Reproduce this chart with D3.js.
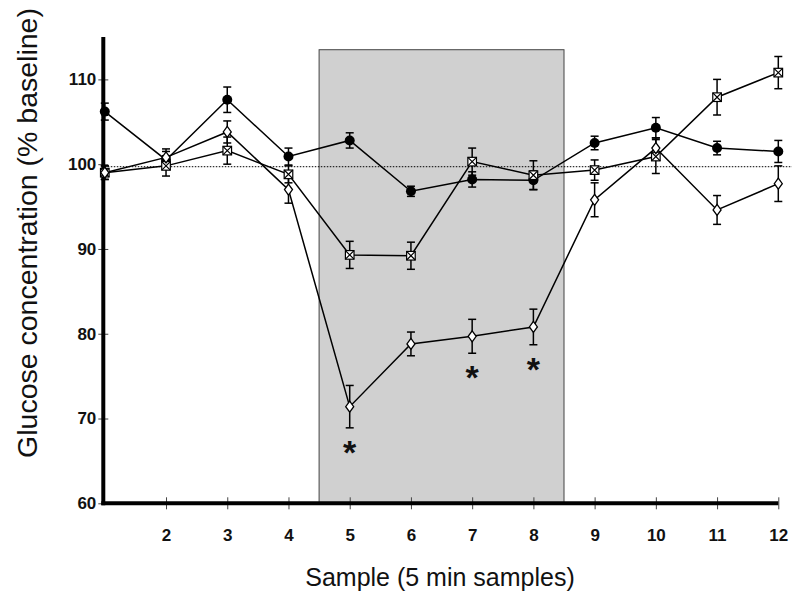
<!DOCTYPE html>
<html>
<head>
<meta charset="utf-8">
<script src="https://cdn.jsdelivr.net/npm/d3@7"></script>
<style>
  html, body { margin: 0; padding: 0; background: #fff; }
  svg { display: block; font-family: "Liberation Sans", Arial, sans-serif; }
</style>
</head>
<body>
<svg id="chart" width="800" height="605"></svg>
<script>
// ---- data ----
const samples = [1, 2, 3, 4, 5, 6, 7, 8, 9, 10, 11, 12];
const filledValues = [106.2, 100.5, 107.6, 100.9, 102.8, 96.8, 98.2, 98.1, 102.5, 104.3, 101.9, 101.5];
const filledErrors = [1.0, 1.0, 1.5, 1.0, 0.9, 0.6, 0.9, 1.1, 0.8, 1.2, 0.8, 1.3];
const crossValues = [99.0, 99.8, 101.6, 98.8, 89.3, 89.2, 100.3, 98.7, 99.3, 100.9, 107.9, 110.8];
const crossErrors = [0.8, 1.2, 1.6, 1.0, 1.6, 1.6, 1.6, 1.7, 1.2, 2.0, 2.1, 1.9];
const diamondValues = [99.0, 100.8, 103.8, 97.0, 71.4, 78.8, 79.7, 80.8, 95.8, 101.9, 94.6, 97.7];
const diamondErrors = [0.8, 1.0, 1.3, 1.6, 2.5, 1.4, 2.0, 2.1, 2.0, 1.2, 1.7, 2.1];
const starSamples = [5, 7, 8];
const xTickValues = [2, 3, 4, 5, 6, 7, 8, 9, 10, 11, 12];
const yTickValues = [60, 70, 80, 90, 100, 110];
const baselineValue = 99.7;
const shadeRange = [4.5, 8.5];
const shadeTop = 113.5;
const yDomain = [60, 115];
const xLabel = "Sample (5 min samples)";
const yLabel = "Glucose concentration (% baseline)";

// ---- scales ----
const x = d3.scaleLinear().domain([1, 12]).range([104.8, 778.3]);
const y = d3.scaleLinear().domain(yDomain).range([503.3, 37]);

const svg = d3.select("#chart");

// shaded treatment period
svg.append("rect")
  .attr("x", x(shadeRange[0]))
  .attr("y", y(shadeTop))
  .attr("width", x(shadeRange[1]) - x(shadeRange[0]))
  .attr("height", y(yDomain[0]) - y(shadeTop))
  .attr("fill", "#d0d0d0")
  .attr("stroke", "#444")
  .attr("stroke-width", 1);

// baseline dotted line
svg.append("line")
  .attr("x1", x(1)).attr("x2", 792)
  .attr("y1", y(baselineValue)).attr("y2", y(baselineValue))
  .attr("stroke", "#000").attr("stroke-width", 1)
  .attr("stroke-dasharray", "1.5,1.5");

// ---- axes ----
const xAxis = svg.append("g")
  .attr("transform", `translate(0,${y(yDomain[0])})`)
  .call(d3.axisBottom(x).tickValues(xTickValues).tickSize(6).tickPadding(20).tickFormat(d3.format("d")));
xAxis.select(".domain").remove();
xAxis.selectAll(".tick line").attr("y1", -6).attr("y2", 6).attr("stroke", "#444").attr("stroke-width", 1);
xAxis.selectAll(".tick text")
  .attr("font-family", "Liberation Sans, Arial, sans-serif")
  .attr("font-size", 17).attr("font-weight", "bold").attr("fill", "#111");

const yAxis = svg.append("g")
  .attr("transform", `translate(${x(1) - 1.5},0)`)
  .call(d3.axisLeft(y).tickValues(yTickValues).tickSize(5).tickPadding(2).tickFormat(d3.format("d")));
yAxis.select(".domain").remove();
yAxis.selectAll(".tick line").attr("x1", -5).attr("x2", 5).attr("stroke", "#444").attr("stroke-width", 1);
yAxis.selectAll(".tick text")
  .attr("font-family", "Liberation Sans, Arial, sans-serif")
  .attr("font-size", 17).attr("font-weight", "bold").attr("fill", "#111");

// thick axis lines
svg.append("line")
  .attr("x1", x(1) - 1.5).attr("x2", x(1) - 1.5)
  .attr("y1", y(yDomain[1])).attr("y2", y(yDomain[0]) + 2)
  .attr("stroke", "#000").attr("stroke-width", 4);
svg.append("line")
  .attr("x1", x(1) - 3.5).attr("x2", x(12))
  .attr("y1", y(yDomain[0])).attr("y2", y(yDomain[0]))
  .attr("stroke", "#000").attr("stroke-width", 4);

// ---- series ----
const series = [
  { values: filledValues, errors: filledErrors, type: "circle" },
  { values: crossValues, errors: crossErrors, type: "cross" },
  { values: diamondValues, errors: diamondErrors, type: "diamond" }
];

const line = d3.line().x(d => x(d.s)).y(d => y(d.v));

series.forEach(se => {
  se.points = samples.map((s, i) => ({ s, v: se.values[i], e: se.errors[i] }));
  svg.append("path")
    .datum(se.points)
    .attr("d", line)
    .attr("fill", "none")
    .attr("stroke", "#000")
    .attr("stroke-width", 1.5);
});

// error bars
series.forEach(se => {
  const g = svg.append("g").attr("stroke", "#000").attr("stroke-width", 1.5);
  se.points.forEach(p => {
    const cx = x(p.s);
    g.append("line").attr("x1", cx).attr("x2", cx).attr("y1", y(p.v + p.e)).attr("y2", y(p.v - p.e));
    g.append("line").attr("x1", cx - 4).attr("x2", cx + 4).attr("y1", y(p.v + p.e)).attr("y2", y(p.v + p.e));
    g.append("line").attr("x1", cx - 4).attr("x2", cx + 4).attr("y1", y(p.v - p.e)).attr("y2", y(p.v - p.e));
  });
});

// markers
series.forEach(se => {
  const g = svg.append("g");
  se.points.forEach(p => {
    const cx = x(p.s), cy = y(p.v);
    if (se.type === "circle") {
      g.append("circle").attr("cx", cx).attr("cy", cy).attr("r", 5).attr("fill", "#000");
    } else if (se.type === "diamond") {
      g.append("path")
        .attr("d", `M${cx},${cy - 5.5}L${cx + 4},${cy}L${cx},${cy + 5.5}L${cx - 4},${cy}Z`)
        .attr("fill", "#fff").attr("stroke", "#000").attr("stroke-width", 1.3);
    } else {
      const h = 4.3;
      g.append("rect").attr("x", cx - h).attr("y", cy - h).attr("width", 2 * h).attr("height", 2 * h)
        .attr("fill", "#fff").attr("stroke", "#000").attr("stroke-width", 1.2);
      g.append("path")
        .attr("d", `M${cx - h},${cy - h}L${cx + h},${cy + h}M${cx + h},${cy - h}L${cx - h},${cy + h}`)
        .attr("stroke", "#000").attr("stroke-width", 1.2);
    }
  });
});

// significance asterisks under diamond series
const diamondSeries = series[2];
starSamples.forEach(s => {
  const p = diamondSeries.points.find(d => d.s === s);
  svg.append("text")
    .attr("x", x(s))
    .attr("y", y(p.v - p.e) + 36)
    .attr("text-anchor", "middle")
    .attr("font-size", 34)
    .attr("font-weight", "bold")
    .attr("fill", "#111")
    .text("*");
});

// axis titles
svg.append("text")
  .attr("x", 440).attr("y", 586)
  .attr("text-anchor", "middle")
  .attr("font-size", 25)
  .attr("fill", "#111")
  .text(xLabel);

svg.append("text")
  .attr("transform", "translate(37,233) rotate(-90)")
  .attr("text-anchor", "middle")
  .attr("font-size", 28.5)
  .attr("fill", "#111")
  .text(yLabel);
</script>
</body>
</html>
